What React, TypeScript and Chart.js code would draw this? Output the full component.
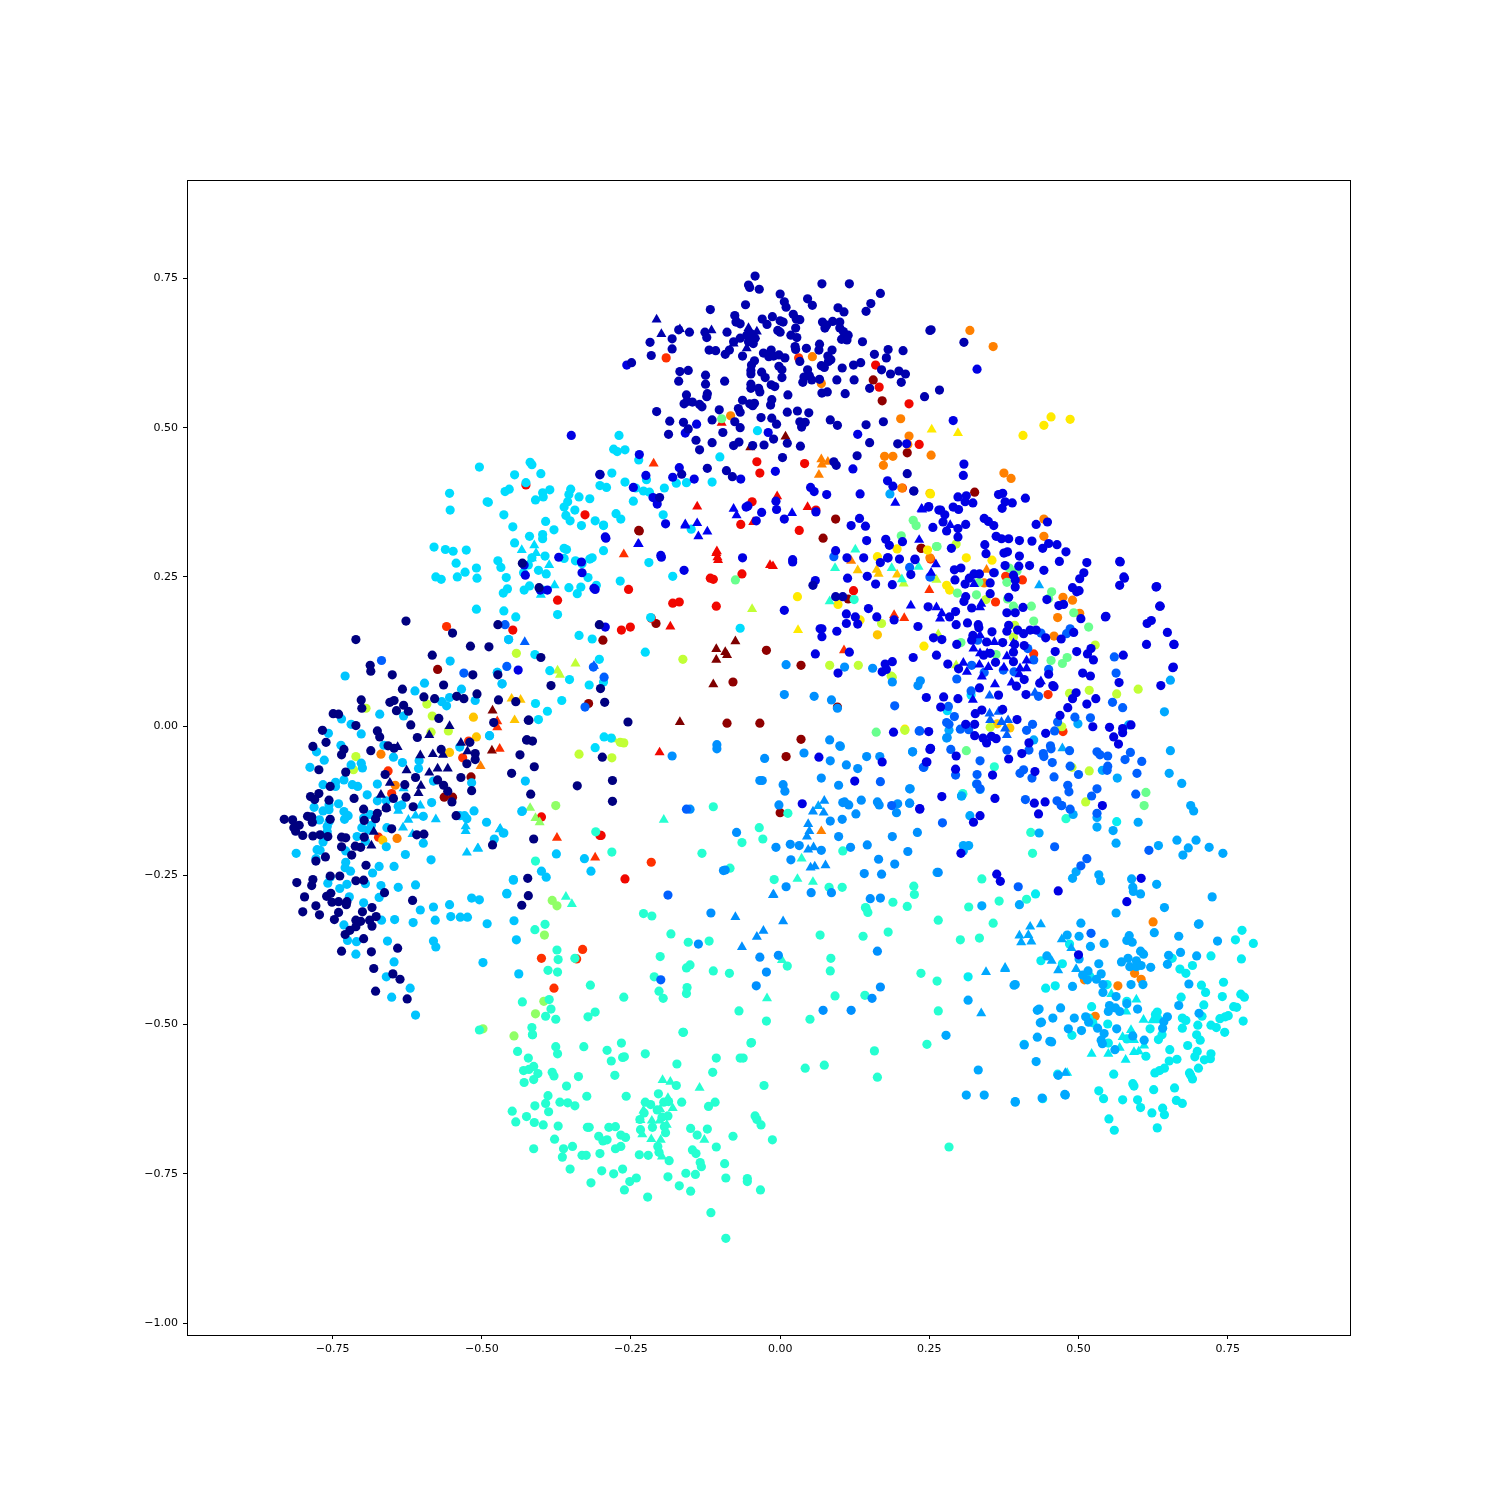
import React, { useEffect, useRef } from "react";
import { Chart, registerables } from "chart.js";

Chart.register(...registerables);

// All values are flat x,y pairs in thousandths of an axis unit.
const navyCircles = [-627,176,-549,156,-711,145,-519,134,-488,133,-473,170,-583,119,-687,102,-686,92,-650,86,-515,86,-473,86,-564,69,-633,62,-597,49,-579,46,-542,50,-530,46,-508,54,-702,44,-701,30,-654,40,-647,43,-631,35,-643,26,-623,25,-749,21,-740,20,-572,13,-619,2,-711,1,-472,44,-443,41,-480,6,-422,10,-425,-23,-767,-7,-675,-8,-671,-18,-608,-19,-761,-27,-783,-34,-731,-39,-735,-48,-686,-41,-657,-33,-647,-37,-568,-39,-520,-27,-511,-46,-511,-56,-525,-63,-436,-48,-773,-73,-728,-77,-662,-81,-611,-86,-535,-86,-450,-79,-629,-98,-754,-101,-574,-90,-564,-99,-557,-109,-517,-108,-550,-127,-773,-113,-787,-118,-780,-123,-714,-121,-756,-124,-648,-121,-627,-119,-615,-135,-698,-139,-675,-146,-660,-137,-543,-150,-831,-156,-817,-157,-806,-166,-815,-170,-812,-176,-800,-183,-792,-151,-785,-152,-784,-161,-754,-156,-783,-184,-771,-182,-758,-185,-735,-186,-728,-187,-678,-155,-697,-158,-651,-172,-697,-186,-609,-182,-597,-181,-735,-202,-712,-201,-703,-203,-718,-216,-762,-219,-778,-226,-482,-199,-694,-233,-810,-262,-783,-257,-785,-267,-754,-251,-738,-251,-711,-259,-698,-258,-423,-255,-797,-286,-760,-285,-753,-280,-663,-279,-751,-295,-740,-294,-726,-294,-727,-299,-616,-292,-778,-301,-800,-311,-772,-316,-740,-312,-747,-324,-700,-311,-684,-304,-677,-319,-688,-325,-684,-335,-711,-325,-703,-327,-711,-336,-721,-342,-729,-349,-698,-356,-735,-377,-685,-378,-641,-372,-681,-406,-649,-415,-637,-424,-678,-444,-625,-457,-433,-300,-422,-284,-424,-23,-415,-25,-255,7,-432,273,-404,232,-303,170,-401,115,-384,68,-301,63,-294,40,-421,10,-298,-52,-412,-68,-340,-100,-281,-91,-418,-114,-281,-126,-413,-189];
const navyTriangles = [-554,0,-588,-15,-641,-35,-603,-49,-582,-47,-565,-48,-535,-28,-524,-42,-626,-74,-588,-78,-574,-71,-557,-71,-654,-95,-602,-100,-669,-115,-606,-112,-660,-137,-681,-177,-685,-200];
const darkBlueCircles = [-42,754,-53,739,-51,735,-35,732,70,741,116,741,168,725,152,708,144,695,0,724,7,711,10,702,46,716,54,705,97,701,107,694,-58,706,-117,698,-76,688,22,690,27,682,33,681,-13,686,-30,682,-22,673,0,679,5,677,71,677,88,678,100,677,78,672,75,667,100,667,-74,677,-67,674,-170,664,-152,660,-126,660,-123,651,-89,660,-4,663,0,660,26,667,18,655,28,651,106,661,114,655,103,648,112,647,138,644,253,664,-181,649,-218,643,-181,632,-216,621,-249,609,-119,630,-108,629,-85,630,-92,623,-63,620,-78,644,-67,650,-56,655,-48,657,-42,650,-53,644,-45,641,25,636,26,631,44,633,66,640,65,630,87,630,-28,625,-15,630,-19,619,-11,620,-2,622,8,617,33,611,80,620,85,614,81,611,69,604,74,601,-43,612,-48,605,-2,603,3,597,158,623,181,631,178,617,206,629,104,600,123,605,135,609,170,597,185,590,199,595,210,590,203,576,-168,594,-154,596,-170,578,-125,588,-125,573,-93,578,-49,596,-49,590,-31,593,-25,584,3,584,46,597,49,587,40,585,38,576,53,580,66,581,95,580,124,580,-49,573,-49,566,-36,566,-34,560,-15,572,-9,569,150,566,70,558,79,560,109,557,13,555,-122,557,-123,552,-157,555,-156,544,-161,540,-147,543,-135,539,-131,535,-63,546,-51,540,-43,541,-46,537,-14,547,-16,538,-207,527,-102,530,-70,532,-67,526,12,526,29,528,48,525,-32,517,-14,516,-6,506,-114,513,-76,510,-67,500,-185,511,-162,509,-154,498,-187,489,-96,492,-141,479,-114,475,-135,463,-78,470,-69,476,-46,470,-27,471,-11,481,12,474,34,469,84,513,96,504,33,510,42,509,36,501,173,510,144,505,150,475,4,450,129,453,90,443,94,437,-122,432,-90,428,-80,418,-165,422,-202,383,197,473,213,423,224,394,242,552,267,563,251,663,308,643,224,394,-302,422,55,236,93,217,105,217];
const darkBlueTriangles = [-207,681,-199,657,-115,663,-168,665,-70,677,-53,667,-39,661,-42,653,-56,633,-78,641];
const blueCircles = [-257,605,-140,506,-159,491,-20,492,130,489,-8,427,-66,414,-144,414,-180,417,-169,433,-236,455,-225,420,-246,400,-213,383,-206,372,-192,339,-292,315,-200,286,-302,421,-57,367,-54,369,-31,358,-7,377,-6,363,7,347,-40,344,60,359,119,336,133,348,143,335,78,388,57,393,51,400,134,389,122,431,180,411,189,402,145,311,177,313,183,303,205,309,249,368,266,362,256,333,93,294,112,282,140,282,180,282,200,280,226,280,-63,282,21,279,212,473,249,367,269,362,276,354,290,367,299,363,298,384,312,386,310,376,323,374,366,388,373,390,377,376,389,374,372,365,411,382,273,342,279,327,311,338,298,331,298,317,342,348,349,343,358,336,429,338,448,342,362,318,371,314,383,314,401,311,422,310,450,306,464,304,440,298,479,292,343,304,287,298,345,289,375,290,381,292,401,285,226,279,468,276,514,274,569,276,292,262,303,265,219,254,442,261,418,269,377,269,400,268,293,245,317,248,325,255,334,255,358,257,352,240,310,238,391,253,394,245,394,233,509,257,502,247,577,248,569,236,631,234,636,201,490,232,501,227,497,225,447,212,475,204,467,202,311,217,308,209,352,222,383,216,248,200,321,198,407,199,380,190,394,190,294,192,284,183,546,184,504,180,295,170,314,173,332,170,333,165,231,167,380,159,383,169,408,155,398,161,419,161,429,161,445,148,471,146,492,157,649,157,614,137,660,137,323,152,355,158,257,148,271,145,296,137,346,141,373,140,321,144,393,137,409,135,391,124,352,122,341,119,461,125,497,125,521,130,515,121,575,119,525,111,223,115,262,119,281,104,299,96,361,107,391,108,450,87,507,89,520,84,658,98,409,78,568,73,638,68,396,67,435,72,457,68,459,66,334,64,366,52,412,53,245,48,274,49,298,46,496,56,490,46,529,46,514,37,269,32,338,27,327,21,373,28,482,31,469,18,397,11,311,3,326,3,445,-12,524,-1,552,-2,574,-4,588,2,574,-11,559,-18,567,-30,249,-9,326,-16,340,-20,346,-28,354,-17,362,-21,417,-28,252,-38,405,-46,295,-50,383,-55,246,-60,294,-72,356,-82,427,-76,271,-118,360,-121,426,-129,444,-127,234,-139,540,-133,433,-147,335,-150,500,-383,581,-294,308,439,307,420,290,512,330,598,570,275,576,250,630,233,637,201,622,177,615,172,660,137,659,99,545,183,-350,487,-429,270,-427,253,-402,228,-390,228,-333,275,-312,231,-293,317,-199,283,-161,261,-439,94,-293,166,-371,283,-332,257,-310,229,21,275,59,244,113,248,146,251,160,238,188,237,168,274,181,282,7,194,111,188,111,172,126,183,130,171,148,197,162,183,191,178,67,163,70,163,70,150,95,159,59,121,116,124,97,89,176,104,188,108,178,95,171,91,190,-10,252,-37,65,-52,125,-92,37,-130,171,-60,245,-60,234,-138,251,-39,324,-161,303,-213,363,-248,369,-260,466,-276,605,-255];
const blueTriangles = [-78,364,-73,353,-159,336,-139,340,-122,326,-137,318,-237,305,20,357,193,374,237,364,233,312,238,363,285,337,261,271,253,257,219,202,262,199,271,189,268,180,337,205,335,199,325,238,335,152,359,141,324,130,335,122,347,122,380,117,391,139,307,106,334,103,349,99,375,98,413,110,413,97,402,97,401,87,313,91,338,83,360,70,388,73,437,75,323,44,-238,305,-159,338];
const azureCircles = [-461,170,-668,110,-530,89,-458,100,331,144,321,102,342,90,296,79,374,94,392,91,425,111,450,95,415,130,433,50,486,163,480,155,437,156,217,266,251,250,359,257,320,59,282,33,292,16,283,3,279,6,302,-5,316,-6,233,-8,413,-7,423,3,465,7,460,-8,494,15,520,14,574,31,557,40,563,89,560,116,286,-39,380,-40,417,-40,453,-33,454,-38,441,-46,442,-51,456,-61,531,-43,536,-48,549,-50,578,-56,587,-44,606,-59,549,-67,548,-74,486,-67,485,-41,500,-81,459,-85,422,-87,402,-79,408,-73,335,-58,330,-81,294,-82,240,-69,330,-97,335,-105,482,-99,484,-110,531,-105,522,-117,598,-79,596,-114,464,-125,472,-133,486,-139,411,-123,531,-146,521,-347,90,284,-327,32,-295,82,-313,99,192,34,234,-8,168,-93,187,-133,272,-162,471,-133,618,-208,460,-202,514,-222,504,-234,399,-269,-157,-139,-188,-283,-200,-425];
const azureTriangles = [351,51,427,56,351,21,352,10,366,24,382,10,371,7,380,-15,377,-4,-312,101,-428,141];
const oceanCircles = [-26,-54,40,-45,84,-58,111,-65,130,-71,145,-51,167,-51,222,-43,69,-87,98,-99,-34,-91,-30,-91,5,-98,8,-109,217,-105,241,-69,-2,-132,105,-128,108,-127,115,-132,136,-124,163,-127,166,-132,197,-130,217,-129,195,-145,127,-147,104,-156,84,-159,98,-185,188,-185,230,-178,-73,-178,-7,-203,17,-198,32,-200,69,-208,118,-203,146,-199,214,-210,18,-224,165,-223,192,-231,141,-247,170,-248,-95,-242,10,-269,52,-279,86,-279,151,-289,-106,-31,-106,-38,-151,-139,10,103,108,99,155,97,235,76,231,68,188,74,7,53,57,50,86,44,96,30,83,-23,100,-33,280,-19,252,250,265,-245,-92,-241,-116,-313,-137,-365,-34,-387,-23,-412,-40,-435,-3,-384,72,-476,119,-476,154,-456,168,-437,163,-377,168,-288,-181,-50];
const oceanTriangles = [74,-125,55,-143,73,-145,47,-164,49,-176,45,-185,47,-207,56,-203,51,-237,58,-235,76,-233,-11,-282,-12,-283,5,-327,-75,-320,-64,-370,-39,-353,-28,-343];
const skyCircles = [184,389,222,-43,279,-20,283,-7,218,-105,217,-129,304,-117,318,-150,425,-23,499,4,540,-74,565,-87,644,24,654,77,654,-41,652,-79,673,-96,688,-133,693,-142,584,2,401,-299,563,-313,644,-304,702,-331,627,-346,504,-330,481,-350,501,-352,520,-369,543,-364,585,-351,581,-359,590,-362,668,-352,733,-360,604,-377,609,-382,671,-379,651,-384,698,-385,649,-399,447,-385,501,-390,534,-398,572,-395,583,-389,597,-393,586,-403,597,-403,605,-401,621,-404,516,-410,507,-417,538,-415,530,-424,515,-425,394,-433,490,-436,588,-433,608,-433,685,-432,541,-433,541,-446,563,-453,668,-468,434,-474,470,-472,552,-468,562,-472,550,-478,569,-478,599,-474,581,-465,438,-496,512,-487,517,-496,649,-487,643,-495,641,-506,702,-481,483,-507,505,-510,532,-506,564,-507,543,-515,538,-526,540,-532,591,-519,610,-526,561,-542,455,-529,429,-562,477,-617,394,-629,665,-191,684,-204,697,-191,719,-203,742,-213,675,-216,724,-286,701,-332,315,-459,392,-434,409,-534,431,-476,436,-497,431,-521,452,-528,457,-489,493,-489,466,-585,394,-630,439,-623,312,-618,342,-618,332,-576,278,-518,478,-618,101,-34,304,-117,329,-97,335,-106,307,-200,316,-200,307,-209,263,-245,491,-148,531,-153,531,-169,558,-175,600,-161,563,-196,496,-244,490,-255,534,-249,537,-259,589,-256,591,-270,592,-277,604,-281,631,-265,338,-301,634,-200,434,-179];
const skyTriangles = [434,236,473,-37,437,-332,419,-336,416,-350,401,-351,404,-362,421,-361,472,-357,488,-372,377,-407,466,-409,455,-393,496,-407,64,-134,478,-581,337,-481,345,-412,377,-405];
const cyanCircles = [-553,109,-729,84,-596,72,-612,59,-534,62,-466,71,-455,145,-474,90,-567,41,-559,34,-554,48,-511,43,-671,20,-631,17,-735,12,-719,3,-702,-13,-757,-12,-664,-32,-736,-32,-487,-16,-537,-35,-777,-43,-764,-57,-788,-69,-648,-52,-633,-61,-605,-58,-606,-71,-719,-65,-702,-62,-700,-70,-581,-92,-517,-95,-427,-92,-766,-98,-745,-94,-745,-101,-731,-90,-717,-98,-708,-101,-675,-97,-692,-115,-675,-125,-660,-125,-584,-128,-781,-136,-756,-132,-766,-142,-756,-140,-740,-130,-731,-143,-724,-150,-730,-156,-698,-154,-687,-148,-634,-132,-640,-134,-772,-157,-756,-160,-759,-168,-759,-177,-701,-170,-690,-174,-685,-166,-659,-170,-598,-151,-537,-150,-529,-150,-525,-155,-513,-142,-492,-161,-432,-142,-709,-185,-695,-193,-766,-194,-776,-207,-771,-208,-811,-213,-778,-222,-728,-209,-660,-202,-598,-196,-479,-189,-463,-179,-628,-215,-728,-228,-729,-237,-720,-243,-672,-235,-647,-235,-683,-246,-585,-224,-754,-253,-758,-263,-726,-265,-738,-272,-695,-264,-669,-267,-640,-270,-611,-266,-447,-257,-722,-286,-672,-287,-698,-296,-458,-280,-517,-288,-504,-291,-554,-299,-581,-303,-603,-308,-668,-325,-646,-324,-615,-329,-578,-325,-552,-319,-536,-320,-524,-320,-491,-331,-446,-326,-731,-333,-725,-359,-710,-361,-658,-360,-581,-360,-577,-370,-442,-358,-711,-382,-647,-395,-660,-420,-498,-396,-438,-415,-620,-439,-651,-454,-611,-484,-433,-143,-464,-179,-375,-214,-328,-222,-317,-243,-400,-243,-392,-253,-447,-258,-458,-281];
const cyanTriangles = [-603,-133,-640,-142,-611,-150,-623,-157,-577,-156,-632,-170,-527,-168,-527,-176,-616,-181,-506,-205,-525,-212,-469,-172,-631,-104,-470,-173,-507,-205];
const aquaCircles = [-419,442,-416,438,-445,421,-401,423,-282,424,-302,403,-291,400,-260,409,-224,413,-242,399,-229,394,-219,392,-194,399,-174,407,-246,377,-461,393,-454,397,-491,376,-426,408,-410,379,-398,391,-397,384,-386,396,-351,397,-354,388,-356,376,-362,367,-337,384,-319,381,-344,362,-275,356,-267,347,-196,354,-463,354,-359,353,-352,344,-393,343,-310,344,-296,337,-333,336,-448,334,-379,329,-420,318,-398,321,-398,314,-445,307,-362,298,-358,296,-296,294,-394,285,-362,281,-343,277,-332,272,-319,280,-315,282,-473,277,-468,266,-430,257,-405,261,-392,255,-416,282,-422,270,-459,249,-322,249,-268,243,-220,274,-180,251,-457,230,-464,223,-429,228,-420,235,-398,228,-354,232,-334,233,-340,222,-308,236,-463,193,-443,183,-373,187,-217,182,-337,152,-315,146,-455,145,-226,124,-411,120,-303,112,-386,93,-353,78,-296,74,-320,69,-474,90,-466,71,-366,43,-410,38,-390,25,-405,11,-487,-16,-310,-36,-270,487,-279,464,-273,460,-260,463,-237,446,-101,451,-114,409,-157,408,-149,330,-38,495,-67,164,-504,434,-554,390,-553,362,-489,375,-580,300,-561,296,-548,293,-526,295,-577,250,-568,246,-541,250,-528,258,-543,273,-509,265,-509,196,-508,248,-295,-18,-283,-20,-296,336,320,52,280,26];
const aquaTriangles = [-433,295,-412,303,-409,290,-416,281,-387,270,-378,236,-401,220];
const tealCircles = [774,-342,763,-358,793,-364,773,-390,722,-385,657,-389,691,-401,670,-407,680,-414,485,-365,437,-393,473,-398,519,-419,445,-439,461,-435,548,-433,706,-434,743,-429,713,-446,741,-453,772,-449,778,-454,672,-454,581,-461,710,-467,760,-470,765,-471,522,-470,632,-479,629,-483,707,-486,674,-489,680,-493,751,-485,746,-487,737,-490,776,-494,549,-499,517,-489,524,-497,674,-506,700,-501,722,-501,731,-505,620,-507,633,-490,745,-513,489,-518,640,-517,634,-525,698,-517,704,-526,581,-524,550,-531,409,-533,683,-535,653,-542,699,-545,722,-549,695,-554,665,-558,652,-561,711,-559,721,-557,613,-553,644,-573,636,-577,628,-581,701,-573,686,-581,688,-585,691,-591,465,-583,559,-583,591,-599,593,-603,626,-609,661,-606,534,-611,542,-624,574,-626,599,-626,440,-624,664,-627,674,-632,604,-639,641,-640,623,-648,644,-651,551,-658,560,-677,632,-673,315,-420,428,-281,564,-160];
const tealTriangles = [555,-449,597,-458,580,-478,609,-492,624,-493,588,-509,574,-521,593,-526,610,-535,569,-539,593,-546,601,-545,522,-549,550,-549,579,-559,481,-581];
const mintCircles = [-415,-517,-440,-545,-422,-556,-376,-537,-373,-549,-329,-537,-290,-543,-266,-531,-283,-561,-264,-555,-261,-554,-226,-549,-173,-566,-162,-513,-107,-556,-67,-556,-48,-530,-113,-580,-430,-577,-421,-575,-413,-570,-406,-582,-382,-580,-379,-586,-338,-587,-277,-585,-429,-597,-413,-592,-358,-603,-389,-619,-324,-620,-258,-620,-174,-602,-204,-616,-27,-602,-393,-632,-411,-636,-369,-630,-356,-631,-344,-636,-449,-645,-388,-646,-425,-654,-443,-663,-412,-664,-397,-668,-372,-670,-323,-672,-320,-672,-287,-672,-276,-671,-304,-687,-297,-695,-290,-693,-267,-685,-259,-689,-378,-692,-413,-708,-363,-708,-348,-704,-365,-722,-332,-719,-325,-719,-302,-716,-276,-708,-267,-704,-352,-742,-299,-745,-279,-750,-264,-742,-317,-765,-252,-763,-241,-757,-261,-777,-222,-789,-236,-718,-221,-719,-205,-704,-203,-714,-186,-728,-188,-755,-169,-770,-150,-779,-158,-749,-142,-751,-134,-731,-132,-738,-147,-710,-141,-716,-107,-705,-93,-733,-91,-757,-55,-758,-55,-763,-33,-777,-116,-815,-91,-858,-13,-693,-79,-687,-150,-674,-139,-685,-122,-675,-42,-653,-39,-659,-32,-668,-109,-630,-120,-637,-165,-630,-226,-630,-217,-634,-195,-630,-187,-629,-206,-643,-235,-659,-188,-653,-198,-655,-234,-676,-214,-672,-194,-671,-192,-681,-228,-648,-229,-314,-215,-318,-183,-348,-201,-386,-211,-420,-203,-444,-196,-456,-157,-405,-156,-438,-157,-448,-163,-513,-69,-477,-23,-494,-49,-531,-62,-556,-151,-400,-154,-362,-119,-360,-112,-410,-85,-414,12,-402,67,-350,85,-389,84,-410,92,-452,50,-491,74,-568,42,-573,158,-544,163,-588,142,-451,139,-352,144,-305,147,-312,181,-345,236,-414,263,-427,265,-477,246,-533,283,-705,-410,-226,-282,-211,-309,-177,-394,-332,-411,-341,-374,-375,-372,-391,-344,-389,-389,-409,-373,-412,-318,-434,-262,-454,-432,-462,-387,-458,-384,-474,-393,-486,-376,-491,-322,-487,-310,-479,-416,-505,-415,-517,-504,-509,-112,-135,13,-146,-35,-170,-29,-189,-64,-195,-131,-213,-84,-238,105,-209,-10,-257,82,-270,104,-270,224,-268,225,-282,189,-295,213,-302,143,-304,306,-113,420,-178,479,-155,423,-213,338,-256,413,-290,367,-293,316,-303,357,-330,265,-325,302,-358,334,-355,359,-68,306,-114,124,212];
const mintTriangles = [-197,-593,-184,-596,-135,-606,-188,-623,-180,-640,-229,-644,-234,-660,-201,-642,-215,-661,-202,-661,-190,-668,-231,-684,-216,-692,-200,-693,-127,-693,-198,-721,3,-392,-22,-456,-195,-157,126,296,232,267,-359,-286,-349,-298,36,-222,29,-256,55,-261,92,265,187,265,204,246,83,209];
const greenCircles = [-98,515,223,345,228,336,203,319,263,301,262,301,297,223,329,220,333,241,380,241,384,265,397,260,381,213,391,201,421,201,425,176,455,225,450,214,492,190,517,166,303,140,362,120,454,110,473,105,481,115,-75,245,161,-10,613,-111,610,-133,312,-41];
const grassCircles = [-376,-133,-382,-292,-374,-301,-395,-350,-396,-461,-410,-482,-498,-507,-446,-519];
const grassTriangles = [-419,-137,-410,-154,-403,-161];
const limeCircles = [-442,122,-694,30,-592,37,-583,17,-585,-10,-556,-8,-711,-51,-715,-73,295,305,393,169,391,149,345,212,528,136,485,55,518,60,564,54,600,62,352,-2,472,-1,489,-69,518,-75,512,-127,-163,112,83,102,131,102,188,82,209,-7,-337,-47,-282,-53,-268,-27,-262,-28,170,172,186,84];
const limeTriangles = [262,245,207,239,295,102,265,154,-47,196,-279,-22,-343,105,-373,93,-369,86];
const yellowCircles = [407,487,442,504,454,518,486,514,196,297,163,284,247,295,312,282,355,278,279,236,284,228,241,134,209,-5,252,389,29,217,97,204,134,178];
const yellowTriangles = [254,497,298,491,30,161];
const goldCircles = [-514,15,-509,-18,-554,-44,-666,-191,364,4,385,-3,251,390,163,153];
const goldTriangles = [-450,46,-435,44,-445,10,130,261,162,262,165,255,196,254];
const orangeCircles = [-669,-47,-645,-99,-642,-188,69,574,202,515,216,486,214,472,175,452,189,452,173,437,253,454,204,399,-83,520,251,282,342,240,474,216,490,211,465,182,442,347,442,318,502,189,459,151,318,663,357,636,375,424,387,415,625,-328,510,-425,566,-435,594,-414,605,-424,528,-486,54,619];
const orangeTriangles = [-502,-67,69,447,80,443,70,438,65,421,346,262,69,-176,119,277];
const redOrangeCircles = [-559,167,-522,-25,-532,-53,-657,-75,-651,-113,-673,-186,-191,617,31,617,252,280,378,251,406,245,361,208,425,121,449,53,474,-9,205,399,-216,-228,-331,-374,-341,-390,-400,-389,-379,-439];
const redOrangeTriangles = [-470,-38,-474,-2,-474,8,-212,440,-262,288,250,228,208,181,-310,-220,-374,-187,191,186,107,127];
const redCircles = [-448,161,160,605,166,568,216,540,-39,443,-34,424,41,440,-47,376,-66,338,60,362,32,328,233,472,-112,246,-117,248,-107,201,-64,255,-266,161,-251,166,-216,181,-180,206,-169,208,-300,-183,-327,354,-426,404,-373,211,-254,229,-400,-152,-302,-183,-260,-256,123,227];
const redTriangles = [-139,368,46,367,-5,385,-45,342,-98,508,-106,293,-105,283,-107,290,-104,278,-202,-44,-17,270,-12,268,-184,167];
const darkRedCircles = [-574,95,-518,-85,-563,-119,-549,-119,156,580,171,545,213,458,-237,328,93,347,72,315,236,298,326,392,237,298,-236,327,-297,144,-321,38,-79,74,-89,5,-34,5,-23,127,35,102,10,-51,0,-145,35,-22,96,32,114,213,-208,172];
const darkRedTriangles = [-482,26,-483,-41,9,485,-50,467,-168,7,-112,70,-107,129,-92,124,-75,142,-107,111,-89,119];

const xTicks = [-0.75, -0.5, -0.25, 0, 0.25, 0.5, 0.75];
const yTicks = [-1, -0.75, -0.5, -0.25, 0, 0.25, 0.5, 0.75];

const seriesTable: [number[], string, string][] = [
  [navyCircles, "#00007f", "circle"],
  [navyTriangles, "#00007f", "triangle"],
  [darkBlueCircles, "#0000ad", "circle"],
  [darkBlueTriangles, "#0000ad", "triangle"],
  [blueCircles, "#0000e3", "circle"],
  [blueTriangles, "#0000f1", "triangle"],
  [azureCircles, "#0060ff", "circle"],
  [azureTriangles, "#0060ff", "triangle"],
  [oceanCircles, "#0090ff", "circle"],
  [oceanTriangles, "#0090ff", "triangle"],
  [skyCircles, "#00a8ff", "circle"],
  [skyTriangles, "#00a8ff", "triangle"],
  [cyanCircles, "#00c4ff", "circle"],
  [cyanTriangles, "#00c4ff", "triangle"],
  [aquaCircles, "#00dcfe", "circle"],
  [aquaTriangles, "#00dcfe", "triangle"],
  [tealCircles, "#06ecf1", "circle"],
  [tealTriangles, "#06ecf1", "triangle"],
  [mintCircles, "#26ffd1", "circle"],
  [mintTriangles, "#26ffd1", "triangle"],
  [greenCircles, "#69ff8e", "circle"],
  [grassCircles, "#90ff66", "circle"],
  [grassTriangles, "#90ff66", "triangle"],
  [limeCircles, "#c1ff36", "circle"],
  [limeTriangles, "#c1ff36", "triangle"],
  [yellowCircles, "#ffea00", "circle"],
  [yellowTriangles, "#ffea00", "triangle"],
  [goldCircles, "#ffc400", "circle"],
  [goldTriangles, "#ffc400", "triangle"],
  [orangeCircles, "#ff8000", "circle"],
  [orangeTriangles, "#ff8000", "triangle"],
  [redOrangeCircles, "#ff3000", "circle"],
  [redOrangeTriangles, "#ff3000", "triangle"],
  [redCircles, "#f10700", "circle"],
  [redTriangles, "#f10700", "triangle"],
  [darkRedCircles, "#8f0000", "circle"],
  [darkRedTriangles, "#7f0000", "triangle"],
];

function toPoints(flat: number[]) {
  const out: { x: number; y: number }[] = [];
  for (let i = 0; i + 1 < flat.length; i += 2) out.push({ x: flat[i] / 1000, y: flat[i + 1] / 1000 });
  return out;
}

const fmt = (v: number) => (v < 0 ? "\u2212" : "") + Math.abs(v).toFixed(2);

const frame = {
  id: "frame",
  afterDraw(chart: any) {
    const { ctx, chartArea: a } = chart;
    ctx.save();
    ctx.strokeStyle = "#000";
    ctx.lineWidth = 1;
    ctx.strokeRect(a.left + 0.5, a.top + 0.5, a.right - a.left, a.bottom - a.top);
    ctx.restore();
  },
};

export default function App() {
  const ref = useRef<HTMLCanvasElement>(null);
  useEffect(() => {
    const tickFont = { family: "DejaVu Sans", size: 11 };
    const common = (ticks: number[]) => ({
      type: "linear" as const,
      grid: { drawOnChartArea: false, drawTicks: true, tickLength: 4, color: "#000", lineWidth: 1 },
      border: { display: false },
      afterBuildTicks: (s: any) => {
        s.ticks = ticks.map((value) => ({ value }));
      },
    });
    const chart = new Chart(ref.current!, {
      type: "scatter",
      data: {
        datasets: seriesTable.map(([flat, color, style]) => ({
          data: toPoints(flat),
          backgroundColor: color,
          borderWidth: 0,
          pointStyle: style,
          pointRadius: style === "circle" ? 4.6 : 5.8,
        })),
      },
      options: {
        animation: false,
        responsive: false,
        layout: { padding: { top: 180, right: 150, left: 0, bottom: 0 } },
        plugins: { legend: { display: false }, tooltip: { enabled: false } },
        scales: {
          x: {
            ...common(xTicks),
            min: -0.994,
            max: 0.955,
            ticks: { font: tickFont, color: "#000", padding: 4, maxRotation: 0, autoSkip: false, callback: (v: any) => fmt(Number(v)) },
            afterFit: (s: any) => {
              s.height = 165;
            },
          },
          y: {
            ...common(yTicks),
            min: -1.02,
            max: 0.915,
            ticks: { font: tickFont, color: "#000", padding: 5, autoSkip: false, callback: (v: any) => fmt(Number(v)) },
            afterFit: (s: any) => {
              s.width = 187;
            },
          },
        },
      },
      plugins: [frame],
    } as any);
    return () => chart.destroy();
  }, []);
  return (
    <canvas
      ref={ref}
      width={1500}
      height={1500}
      style={{ position: "absolute", left: 0, top: 0, width: 1500, height: 1500, display: "block" }}
    />
  );
}
